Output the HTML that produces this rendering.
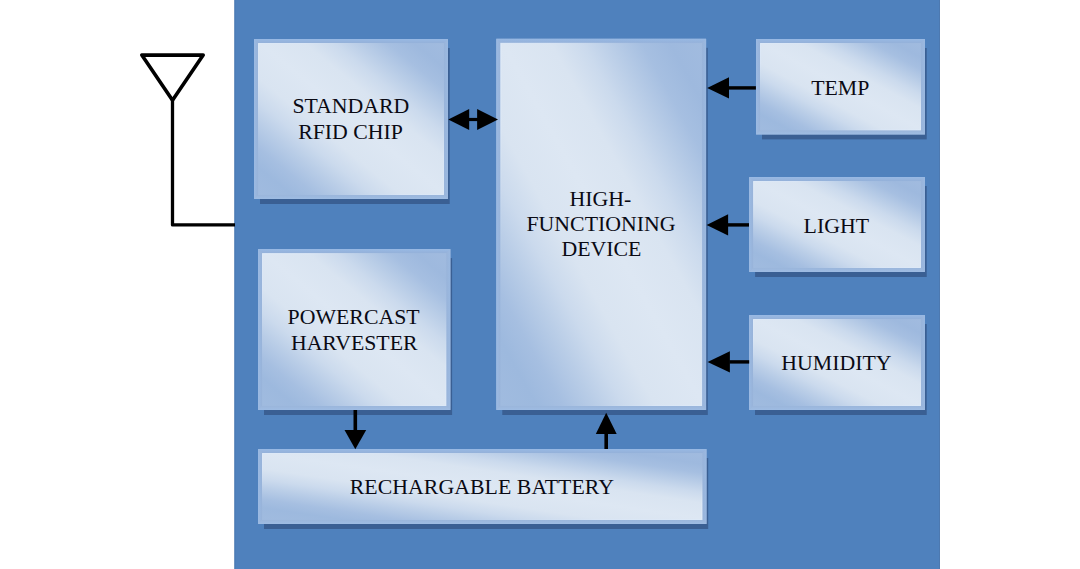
<!DOCTYPE html>
<html><head><meta charset="utf-8"><title>Block diagram</title>
<style>
html,body{margin:0;padding:0;background:#fff;}
body{width:1080px;height:569px;position:relative;overflow:hidden;font-family:"Liberation Serif",serif;}
.t{position:absolute;height:40px;line-height:40px;text-align:left;font-family:"Liberation Serif",serif;font-size:21.8px;color:#0a0a14;white-space:nowrap;}
</style></head><body>
<svg width="1080" height="569" viewBox="0 0 1080 569" style="position:absolute;left:0;top:0">
<defs>
<linearGradient id="g" x1="0" y1="1" x2="1" y2="0">
<stop offset="0" stop-color="#a0bbdf"/>
<stop offset="0.09" stop-color="#9db9de"/>
<stop offset="0.155" stop-color="#a6bfe1"/>
<stop offset="0.235" stop-color="#b9cde7"/>
<stop offset="0.305" stop-color="#cbdaed"/>
<stop offset="0.385" stop-color="#d9e4f1"/>
<stop offset="0.505" stop-color="#dde7f3"/>
<stop offset="0.625" stop-color="#d9e4f1"/>
<stop offset="0.705" stop-color="#cbdaed"/>
<stop offset="0.775" stop-color="#b9cde7"/>
<stop offset="0.85" stop-color="#a6bfe1"/>
<stop offset="0.92" stop-color="#9eb9de"/>
<stop offset="1" stop-color="#a1bbdf"/>
</linearGradient>
<linearGradient id="h" x1="0" y1="1" x2="1" y2="0">
<stop offset="0" stop-color="#a0bbdf"/>
<stop offset="0.09" stop-color="#9db9de"/>
<stop offset="0.155" stop-color="#a7c0e2"/>
<stop offset="0.235" stop-color="#bdd0e9"/>
<stop offset="0.305" stop-color="#d2e0f1"/>
<stop offset="0.385" stop-color="#e2ecf9"/>
<stop offset="0.505" stop-color="#e6f0fb"/>
<stop offset="0.625" stop-color="#e2ecf9"/>
<stop offset="0.705" stop-color="#d2e0f1"/>
<stop offset="0.775" stop-color="#bdd0e9"/>
<stop offset="0.85" stop-color="#a7c0e2"/>
<stop offset="0.92" stop-color="#9eb9de"/>
<stop offset="1" stop-color="#a1bbdf"/>
</linearGradient>
<linearGradient id="bt" x1="0" y1="0" x2="0" y2="1"><stop offset="0" stop-color="#98b9e4"/><stop offset="1" stop-color="#94b0d8"/></linearGradient>
<linearGradient id="bl" x1="0" y1="0" x2="1" y2="0"><stop offset="0" stop-color="#9bbae3"/><stop offset="1" stop-color="#97b2d8"/></linearGradient>
<linearGradient id="br" x1="1" y1="0" x2="0" y2="0"><stop offset="0" stop-color="#9bb9e1"/><stop offset="1" stop-color="#98b3d9"/></linearGradient>
<linearGradient id="bb" x1="0" y1="1" x2="0" y2="0"><stop offset="0" stop-color="#9ebce3"/><stop offset="1" stop-color="#9ab5da"/></linearGradient>
</defs>
<rect x="234.4" y="0" width="705.5" height="569" fill="#4f81bd"/>
<rect x="234.4" y="0" width="0.8" height="569" fill="#3f6ba3" opacity="0.7"/>
<rect x="939.1" y="0" width="0.8" height="569" fill="#3f6ba3" opacity="0.7"/>
<rect x="260.0" y="48.0" width="189.7" height="156.0" fill="#3a5f93"/>
<rect x="502.3" y="47.8" width="205.5" height="367.2" fill="#3a5f93"/>
<rect x="762.0" y="48.0" width="164.7" height="91.4" fill="#3a5f93"/>
<rect x="755.1" y="186.0" width="171.6" height="91.0" fill="#3a5f93"/>
<rect x="755.0" y="324.0" width="171.7" height="91.0" fill="#3a5f93"/>
<rect x="264.0" y="258.1" width="188.1" height="156.9" fill="#3a5f93"/>
<rect x="264.0" y="458.0" width="444.2" height="71.0" fill="#3a5f93"/>
<rect x="254.0" y="39.0" width="194.0" height="160.0" fill="#99b5dc"/>
<polygon points="254.0,39.0 448.0,39.0 443.5,43.5 258.5,43.5" fill="url(#bt)"/>
<polygon points="254.0,39.0 258.5,43.5 258.5,194.5 254.0,199.0" fill="url(#bl)"/>
<polygon points="448.0,39.0 448.0,199.0 443.5,194.5 443.5,43.5" fill="url(#br)"/>
<polygon points="254.0,199.0 258.5,194.5 443.5,194.5 448.0,199.0" fill="url(#bb)"/>
<rect x="258.5" y="43.5" width="185.0" height="151.0" fill="url(#g)" stroke="url(#h)" stroke-width="1" stroke-opacity="0.8"/>
<rect x="496.3" y="38.8" width="209.8" height="371.2" fill="#99b5dc"/>
<polygon points="496.3,38.8 706.1,38.8 701.6,43.3 500.8,43.3" fill="url(#bt)"/>
<polygon points="496.3,38.8 500.8,43.3 500.8,405.5 496.3,410.0" fill="url(#bl)"/>
<polygon points="706.1,38.8 706.1,410.0 701.6,405.5 701.6,43.3" fill="url(#br)"/>
<polygon points="496.3,410.0 500.8,405.5 701.6,405.5 706.1,410.0" fill="url(#bb)"/>
<rect x="500.8" y="43.3" width="200.8" height="362.2" fill="url(#g)" stroke="url(#h)" stroke-width="1" stroke-opacity="0.8"/>
<rect x="756.0" y="39.0" width="169.0" height="95.4" fill="#99b5dc"/>
<polygon points="756.0,39.0 925.0,39.0 920.5,43.5 760.5,43.5" fill="url(#bt)"/>
<polygon points="756.0,39.0 760.5,43.5 760.5,129.9 756.0,134.4" fill="url(#bl)"/>
<polygon points="925.0,39.0 925.0,134.4 920.5,129.9 920.5,43.5" fill="url(#br)"/>
<polygon points="756.0,134.4 760.5,129.9 920.5,129.9 925.0,134.4" fill="url(#bb)"/>
<rect x="760.5" y="43.5" width="160.0" height="86.4" fill="url(#g)" stroke="url(#h)" stroke-width="1" stroke-opacity="0.8"/>
<rect x="749.1" y="177.0" width="175.9" height="95.0" fill="#99b5dc"/>
<polygon points="749.1,177.0 925.0,177.0 920.5,181.5 753.6,181.5" fill="url(#bt)"/>
<polygon points="749.1,177.0 753.6,181.5 753.6,267.5 749.1,272.0" fill="url(#bl)"/>
<polygon points="925.0,177.0 925.0,272.0 920.5,267.5 920.5,181.5" fill="url(#br)"/>
<polygon points="749.1,272.0 753.6,267.5 920.5,267.5 925.0,272.0" fill="url(#bb)"/>
<rect x="753.6" y="181.5" width="166.9" height="86.0" fill="url(#g)" stroke="url(#h)" stroke-width="1" stroke-opacity="0.8"/>
<rect x="749.0" y="315.0" width="176.0" height="95.0" fill="#99b5dc"/>
<polygon points="749.0,315.0 925.0,315.0 920.5,319.5 753.5,319.5" fill="url(#bt)"/>
<polygon points="749.0,315.0 753.5,319.5 753.5,405.5 749.0,410.0" fill="url(#bl)"/>
<polygon points="925.0,315.0 925.0,410.0 920.5,405.5 920.5,319.5" fill="url(#br)"/>
<polygon points="749.0,410.0 753.5,405.5 920.5,405.5 925.0,410.0" fill="url(#bb)"/>
<rect x="753.5" y="319.5" width="167.0" height="86.0" fill="url(#g)" stroke="url(#h)" stroke-width="1" stroke-opacity="0.8"/>
<rect x="258.0" y="249.1" width="192.4" height="160.9" fill="#99b5dc"/>
<polygon points="258.0,249.1 450.4,249.1 445.9,253.6 262.5,253.6" fill="url(#bt)"/>
<polygon points="258.0,249.1 262.5,253.6 262.5,405.5 258.0,410.0" fill="url(#bl)"/>
<polygon points="450.4,249.1 450.4,410.0 445.9,405.5 445.9,253.6" fill="url(#br)"/>
<polygon points="258.0,410.0 262.5,405.5 445.9,405.5 450.4,410.0" fill="url(#bb)"/>
<rect x="262.5" y="253.6" width="183.4" height="151.9" fill="url(#g)" stroke="url(#h)" stroke-width="1" stroke-opacity="0.8"/>
<rect x="258.0" y="449.0" width="448.5" height="75.0" fill="#99b5dc"/>
<polygon points="258.0,449.0 706.5,449.0 702.0,453.5 262.5,453.5" fill="url(#bt)"/>
<polygon points="258.0,449.0 262.5,453.5 262.5,519.5 258.0,524.0" fill="url(#bl)"/>
<polygon points="706.5,449.0 706.5,524.0 702.0,519.5 702.0,453.5" fill="url(#br)"/>
<polygon points="258.0,524.0 262.5,519.5 702.0,519.5 706.5,524.0" fill="url(#bb)"/>
<rect x="262.5" y="453.5" width="439.5" height="66.0" fill="url(#g)" stroke="url(#h)" stroke-width="1" stroke-opacity="0.8"/>
<g fill="none" stroke="#000" stroke-width="3.6" stroke-linejoin="round" stroke-linecap="butt">
<polygon points="141.8,55.1 203.2,55.1 172.5,100.3"/>
<polyline points="172.5,98 172.5,224.9 235,224.9" stroke-width="3.3"/>
</g>
<polygon points="707.2,87.9 729.0,77.30000000000001 729.0,98.5" fill="#000"/><rect x="728.5" y="86.2" width="27.399999999999977" height="3.4" fill="#000"/>
<polygon points="706.6,224.9 728.1,214.3 728.1,235.5" fill="#000"/><rect x="727.6" y="223.20000000000002" width="21.399999999999977" height="3.4" fill="#000"/>
<polygon points="707.6,361.9 729.9,351.29999999999995 729.9,372.5" fill="#000"/><rect x="729.4" y="360.2" width="19.800000000000068" height="3.4" fill="#000"/>
<polygon points="448.3,119.5 469.2,109.1 469.2,129.9" fill="#000"/>
<polygon points="498,119.5 477.1,109.1 477.1,129.9" fill="#000"/>
<rect x="468" y="117.9" width="10" height="3.2" fill="#000"/>
<polygon points="355.3,449.3 344.5,430 366.2,430" fill="#000"/>
<rect x="353.5" y="410" width="3.6" height="20.5" fill="#000"/>
<polygon points="606.2,412.7 595.8,433.9 616.7,433.9" fill="#000"/>
<rect x="604.4" y="433.4" width="3.6" height="15.6" fill="#000"/>
</svg>
<div class="t" style="left:292.40px;top:85.90px;letter-spacing:0.000px">STANDARD</div>
<div class="t" style="left:298.20px;top:112.10px;letter-spacing:0.000px">RFID CHIP</div>
<div class="t" style="left:569.50px;top:179.10px;letter-spacing:0.000px">HIGH-</div>
<div class="t" style="left:526.50px;top:203.90px;letter-spacing:0.000px">FUNCTIONING</div>
<div class="t" style="left:561.40px;top:229.20px;letter-spacing:0.000px">DEVICE</div>
<div class="t" style="left:811.20px;top:67.80px;letter-spacing:0.000px">TEMP</div>
<div class="t" style="left:803.60px;top:205.80px;letter-spacing:0.000px">LIGHT</div>
<div class="t" style="left:781.30px;top:342.80px;letter-spacing:0.000px">HUMIDITY</div>
<div class="t" style="left:287.60px;top:296.70px;letter-spacing:0.000px">POWERCAST</div>
<div class="t" style="left:290.90px;top:322.70px;letter-spacing:0.000px">HARVESTER</div>
<div class="t" style="left:349.70px;top:467.00px;letter-spacing:0.050px">RECHARGABLE BATTERY</div>
</body></html>
